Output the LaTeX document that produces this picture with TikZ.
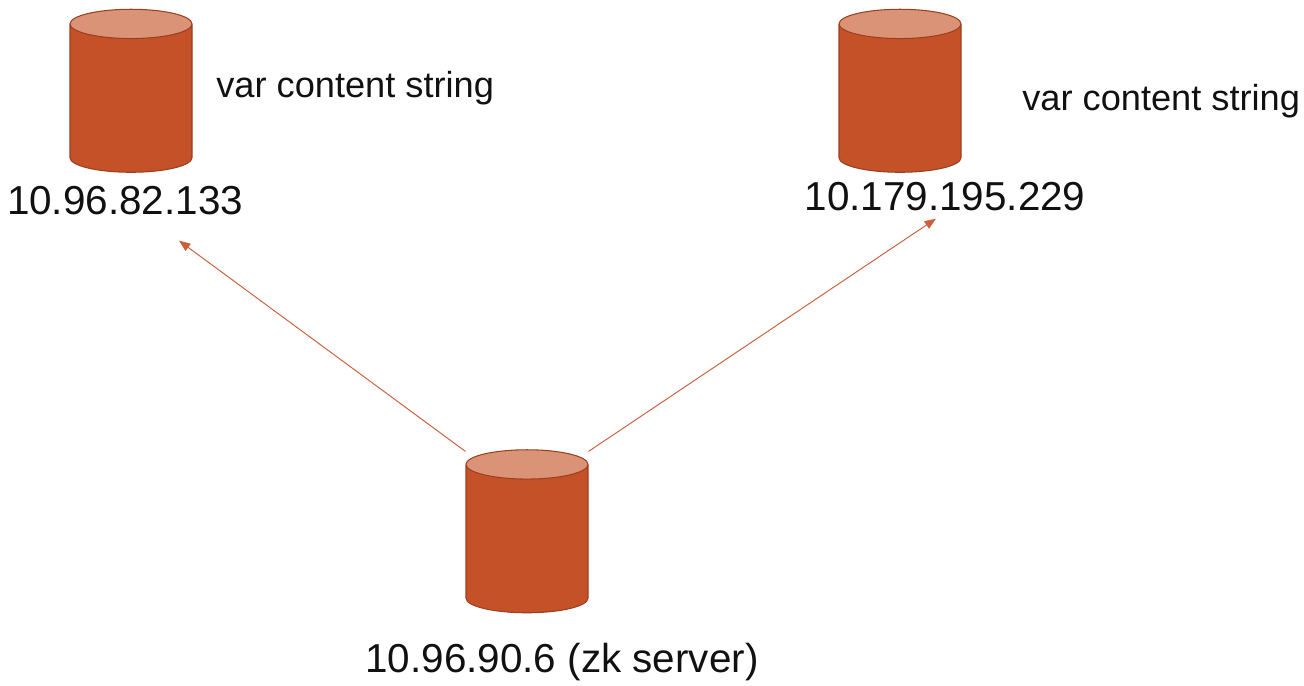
\documentclass[tikz,border=0pt]{standalone}
\usepackage{fontspec}
\setmainfont{Liberation Sans}
\usepackage{xcolor}
\definecolor{DbBody}{HTML}{C55128}
\definecolor{DbTop}{HTML}{DB9377}
\definecolor{DbBorder}{HTML}{9C3F1E}
\definecolor{LinkRed}{HTML}{CC5F3C}
\definecolor{LabelInk}{HTML}{111111}
\usetikzlibrary{shapes.geometric, arrows.meta}

\begin{document}
\begin{tikzpicture}[
  dbnode/.style={shape=cylinder, shape border rotate=90, aspect=2.5,
               draw=DbBorder, line width=0.6pt,
               minimum width=2.44cm, minimum height=3.26cm,
               cylinder uses custom fill, cylinder body fill=DbBody,
               cylinder end fill=DbTop},
  iplbl/.style={font=\fontsize{23}{26}\selectfont, text=LabelInk, inner sep=0pt},
  varlbl/.style={font=\fontsize{20.6}{24}\selectfont, text=LabelInk, inner sep=0pt, anchor=west},
  link/.style={draw=LinkRed, line width=0.55pt, -{Triangle[length=6.5pt, width=5pt]}},
]
\useasboundingbox (0,0) rectangle (26.08,13.72);
% one cylinder with its address below
\foreach \name/\x/\y/\lx/\ly/\ip in {
  left/2.62/11.69/2.50/9.70/10.96.82.133,
  right/18.00/11.69/18.90/9.78/10.179.195.229,
  zk/10.54/2.88/11.24/0.48/10.96.90.6 (zk server)
} {
  \node[dbnode] (\name) at (\x,\y) {};
  \node[iplbl] (\name ip) at (\lx,\ly) {\ip};
}
\node[varlbl] (leftvar) at (4.32,11.96) {var content string};
\node[varlbl] (rightvar) at (20.44,11.70) {var content string};

\draw[link] ([yshift=0.26cm]zk.before top) -- ([xshift=1.08cm,yshift=-0.50cm]leftip.south);
\draw[link] ([yshift=0.26cm]zk.after top) -- ([xshift=-0.18cm,yshift=-0.14cm]rightip.south);
\end{tikzpicture}
\end{document}
